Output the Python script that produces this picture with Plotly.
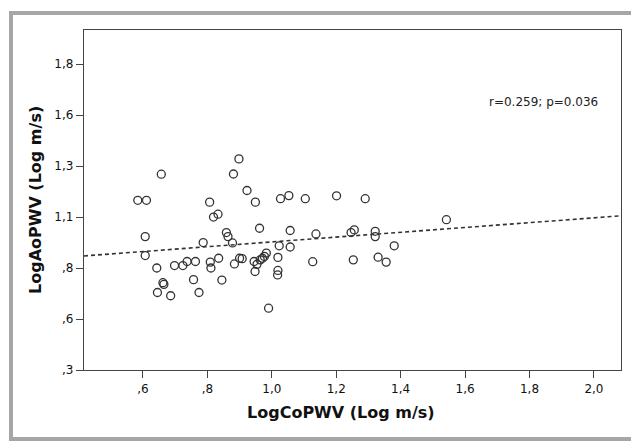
import numpy as np
import plotly.graph_objects as go

# LogCoPWV (x) and LogAoPWV (y)
log_co_pwv = [0.584, 0.611, 0.657, 0.607, 0.607, 0.643, 0.645, 0.662, 0.665, 0.686,
              0.698, 0.724, 0.737, 0.763, 0.757, 0.774, 0.787, 0.807, 0.819, 0.833,
              0.809, 0.811, 0.835, 0.845, 0.859, 0.864, 0.878, 0.881, 0.884, 0.898,
              0.900, 0.908, 0.923, 0.949, 0.948, 0.962, 0.945, 0.954, 0.964, 0.971,
              0.977, 0.983, 0.990, 1.019, 1.023, 1.019, 1.018, 1.027, 1.053, 1.057,
              1.057, 1.104, 1.127, 1.137, 1.201, 1.246, 1.256, 1.253, 1.290, 1.321,
              1.321, 1.330, 1.355, 1.380, 1.542]
log_ao_pwv = [1.132, 1.132, 1.260, 0.954, 0.861, 0.800, 0.680, 0.728, 0.720, 0.664,
              0.812, 0.812, 0.832, 0.832, 0.743, 0.680, 0.925, 1.123, 1.050, 1.064,
              0.829, 0.800, 0.848, 0.741, 0.974, 0.954, 0.923, 1.261, 0.820, 1.335,
              0.848, 0.846, 1.180, 1.123, 0.783, 0.995, 0.832, 0.818, 0.840, 0.848,
              0.857, 0.873, 0.603, 0.852, 0.909, 0.788, 0.766, 1.140, 1.155, 0.984,
              0.903, 1.140, 0.831, 0.967, 1.154, 0.974, 0.987, 0.840, 1.140, 0.980,
              0.954, 0.853, 0.829, 0.909, 1.037]

# fitted line as drawn in the figure
fit_slope = 0.118
fit_intercept = 0.810

x_range = [0.417, 2.084]
y_range = [0.3, 1.967]
x_ticks = [0.6, 0.8, 1.0, 1.2, 1.4, 1.6, 1.8, 2.0]
x_tick_labels = [",6", ",8", "1,0", "1,2", "1,4", "1,6", "1,8", "2,0"]
y_ticks = [0.3, 0.55, 0.8, 1.05, 1.3, 1.55, 1.8]
y_tick_labels = [",3", ",6", ",8", "1,1", "1,3", "1,6", "1,8"]

# the page body has an 8px margin, so the figure is drawn 8px smaller and offset
OFF = 8
W, H = 639 - OFF, 441 - OFF
ml, mr, mt, mb = 84 - OFF, 18, 30 - OFF, 71
pw, ph = W - ml - mr, H - mt - mb


def px_x(x):
    # page pixel -> paper x
    return (x - OFF - ml) / pw


def px_y(y):
    # page pixel -> paper y
    return (H - mb - (y - OFF)) / ph


fig = go.Figure()

line_x = np.array(x_range)
fig.add_trace(go.Scatter(
    x=line_x, y=fit_intercept + fit_slope * line_x,
    mode="lines",
    line=dict(color="#333333", width=1.6, dash="4px,3px"),
    showlegend=False, hoverinfo="skip"))

fig.add_trace(go.Scatter(
    x=log_co_pwv, y=log_ao_pwv,
    mode="markers",
    marker=dict(symbol="circle-open", size=8, color="#333333",
                line=dict(color="#333333", width=1.3)),
    showlegend=False))

axis_font = dict(family="DejaVu Sans", size=12, color="#111111")
common = dict(showgrid=False, zeroline=False, showline=True, mirror=True,
              linecolor="#444444", linewidth=1.3, ticks="outside", ticklen=7,
              tickcolor="#444444", tickwidth=1.3, tickfont=axis_font)
fig.update_xaxes(range=x_range, tickvals=x_ticks, ticktext=x_tick_labels, **common)
fig.update_yaxes(range=y_range, tickvals=y_ticks, ticktext=y_tick_labels, **common)

title_font = dict(family="DejaVu Sans", size=16, color="#111111")
fig.add_annotation(text="<b>LogCoPWV (Log m/s)</b>", xref="paper", yref="paper",
                   x=px_x(341), y=px_y(412), xanchor="center", yanchor="middle",
                   showarrow=False, font=title_font)
fig.add_annotation(text="<b>LogAoPWV (Log m/s)</b>", xref="paper", yref="paper",
                   x=px_x(35), y=px_y(200), xanchor="center", yanchor="middle",
                   textangle=-90, showarrow=False, font=title_font)

fig.add_annotation(text="r=0.259; p=0.036", xref="paper", yref="paper",
                   x=px_x(600), y=px_y(102), xanchor="right", yanchor="middle",
                   showarrow=False, font=dict(family="DejaVu Sans", size=12, color="#222222"))

# grey outer frame around the whole chart
fig.add_shape(type="rect", xref="paper", yref="paper",
              x0=px_x(11), x1=px_x(633), y0=px_y(439), y1=px_y(13),
              line=dict(color="#a6a6a6", width=4), fillcolor="rgba(0,0,0,0)", layer="below")

fig.update_layout(width=W, height=H, margin=dict(l=ml, r=mr, t=mt, b=mb),
                  paper_bgcolor="white", plot_bgcolor="white")

fig.write_html("out.html")
